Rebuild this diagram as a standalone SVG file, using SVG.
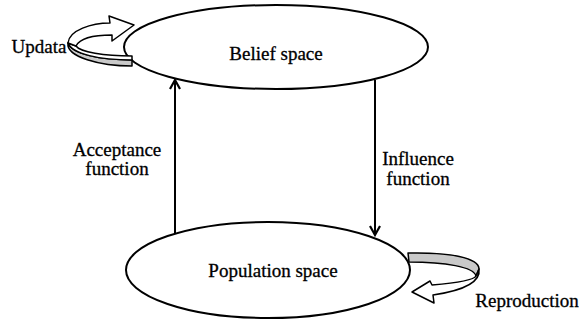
<svg xmlns="http://www.w3.org/2000/svg" width="579" height="322" viewBox="0 0 579 322">
<defs>
<style>
.node{fill:#fff;stroke:#000;stroke-width:2}
.lbl{font-family:"Liberation Serif","Times New Roman",serif;font-size:19px;fill:#000;stroke:#000;stroke-width:0.3;text-anchor:middle}
.conn{stroke:#000;stroke-width:2;fill:none}
.rib{stroke:#000;stroke-width:1.5;stroke-linejoin:round}
.gray{fill:#c9c9c9}
.white{fill:#fff}
</style>
<marker id="ah" viewBox="0 0 12 12" refX="10" refY="6" markerWidth="12" markerHeight="12" markerUnits="userSpaceOnUse" orient="auto">
<path d="M1,1 L10,6 L1,11" fill="none" stroke="#000" stroke-width="2.2"/>
</marker>
</defs>
<rect width="579" height="322" fill="#fff"/>
<g id="connectors">
<line class="conn" x1="175" y1="234" x2="175" y2="80" marker-end="url(#ah)"/>
<line class="conn" x1="375" y1="80" x2="375" y2="235" marker-end="url(#ah)"/>
<text class="lbl" x="117" y="156">Acceptance</text>
<text class="lbl" x="117" y="175">function</text>
<text class="lbl" x="418" y="165">Influence</text>
<text class="lbl" x="418" y="185">function</text>
</g>
<g id="belief">
<ellipse class="node" cx="276" cy="47" rx="152" ry="42"/>
<text class="lbl" x="276" y="60">Belief space</text>
</g>
<g id="population">
<ellipse class="node" cx="268" cy="270" rx="142" ry="48"/>
<text class="lbl" x="273" y="277">Population space</text>
</g>
<g id="updata">
<path class="rib gray" d="M68,43 C66,57 100,66 132,66 L132,60 C100,60 72,54 68,43 Z"/>
<path class="rib white" d="M68,43 C72,54 100,60 132,60 L132,56 C104,56 80,52 76,46 Z"/>
<path class="rib white" d="M68,43 C69,30 92,23 110,23 L109,16 L134,25 L112,41 L112,35 C95,35 80,38 76,46 Z"/>
<text class="lbl" x="39" y="53">Updata</text>
</g>
<g id="reproduction">
<path class="rib gray" d="M408,253 C450,252 479,258 479,269 L476,276 C474,267 445,262 409,262 Z"/>
<path class="rib white" d="M479,269 C481,283 460,291 433,295 L434,303 L412,292 L430,281 L432,285 C455,283 474,280 476,276 Z"/>
<text class="lbl" x="527" y="307">Reproduction</text>
</g>
</svg>
